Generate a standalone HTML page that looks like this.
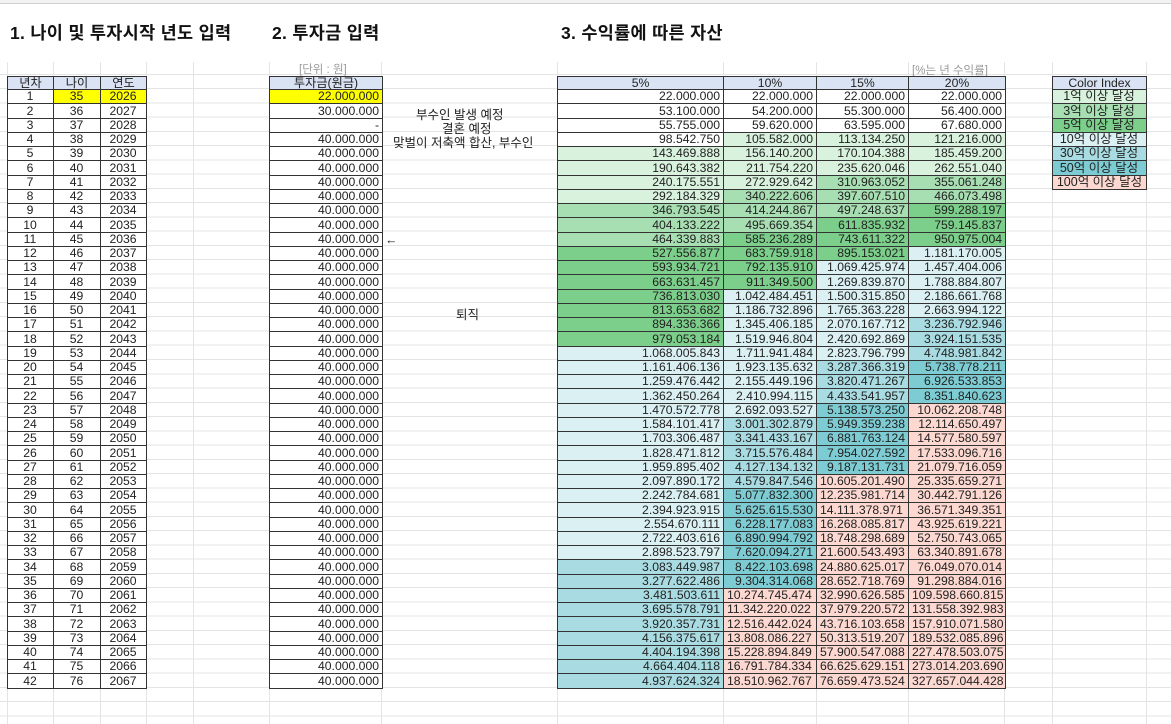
<!DOCTYPE html>
<html><head><meta charset="utf-8">
<style>
html,body{margin:0;padding:0;}
body{width:1171px;height:724px;position:relative;overflow:hidden;background:#fff;
font-family:"Liberation Sans","Noto Sans CJK KR",sans-serif;color:#222;}
.grid{position:absolute;left:0;top:0;width:1171px;height:724px;
background-image:repeating-linear-gradient(to bottom,transparent 0,transparent 13.26px,#e4e4e4 13.26px,#e4e4e4 14.26px);
background-position:0 3.5px;}
.v{position:absolute;top:0;width:1px;height:724px;background:#e4e4e4;}
.topbar{position:absolute;left:0;top:0;width:1171px;height:3px;background:#f2f2f2;border-bottom:1px solid #d0d0d0;}
.cover{position:absolute;left:0;top:4px;width:1171px;height:58px;background:#fff;}
h1{position:absolute;margin:0;font-size:17.5px;font-weight:bold;top:20px;color:#111;white-space:nowrap;letter-spacing:0.3px;}
table{position:absolute;border-collapse:collapse;table-layout:fixed;font-size:12.2px;background:#fff;}
td{border:1px solid #333;height:13.26px;padding:0 3px 0 2px;line-height:13px;white-space:nowrap;overflow:hidden;vertical-align:bottom;text-align:right;}
th{border:1px solid #333;height:12px;background:#dae3f3;font-weight:normal;line-height:12px;padding:0;text-align:center;vertical-align:bottom;}
.c{text-align:center;}
.y{background:#ffff00;}
.a{background:#d9f2dd;}.b{background:#a8dfb2;}.cc{background:#7ccf8a;}
.d{background:#dbf0f3;}.e{background:#a9dce2;}.f{background:#7dccd3;}.g{background:#fcd8d1;}
.o{text-align:left;padding-left:3px;padding-right:0;}
.note{position:absolute;font-size:12.5px;white-space:nowrap;color:#222;}
.gray{position:absolute;font-size:11.5px;color:#999;white-space:nowrap;}
.ci td{font-size:12.5px;}
</style></head><body>
<div class="grid"></div>
<div class="v" style="left:7px"></div><div class="v" style="left:53px"></div><div class="v" style="left:100px"></div><div class="v" style="left:146px"></div><div class="v" style="left:193px"></div><div class="v" style="left:269px"></div><div class="v" style="left:381px"></div><div class="v" style="left:557px"></div><div class="v" style="left:723px"></div><div class="v" style="left:816px"></div><div class="v" style="left:908px"></div><div class="v" style="left:1004px"></div><div class="v" style="left:1052px"></div><div class="v" style="left:1146px"></div>
<div class="topbar"></div>
<div class="cover"></div>
<h1 style="left:10px">1. 나이 및 투자시작 년도 입력</h1>
<h1 style="left:272px">2. 투자금 입력</h1>
<h1 style="left:561px">3. 수익률에 따른 자산</h1>
<div class="gray" style="left:299px;top:61px">[단위 : 원]</div>
<div class="gray" style="left:912px;top:62px">[%는 년 수익률]</div>

<table style="left:7px;top:76px;width:139px">
<colgroup><col style="width:46px"><col style="width:47px"><col style="width:46px"></colgroup>
<tr><th>년차</th><th>나이</th><th>연도</th></tr>
<tr><td class="c">1</td><td class="c y">35</td><td class="c y">2026</td></tr>
<tr><td class="c">2</td><td class="c">36</td><td class="c">2027</td></tr>
<tr><td class="c">3</td><td class="c">37</td><td class="c">2028</td></tr>
<tr><td class="c">4</td><td class="c">38</td><td class="c">2029</td></tr>
<tr><td class="c">5</td><td class="c">39</td><td class="c">2030</td></tr>
<tr><td class="c">6</td><td class="c">40</td><td class="c">2031</td></tr>
<tr><td class="c">7</td><td class="c">41</td><td class="c">2032</td></tr>
<tr><td class="c">8</td><td class="c">42</td><td class="c">2033</td></tr>
<tr><td class="c">9</td><td class="c">43</td><td class="c">2034</td></tr>
<tr><td class="c">10</td><td class="c">44</td><td class="c">2035</td></tr>
<tr><td class="c">11</td><td class="c">45</td><td class="c">2036</td></tr>
<tr><td class="c">12</td><td class="c">46</td><td class="c">2037</td></tr>
<tr><td class="c">13</td><td class="c">47</td><td class="c">2038</td></tr>
<tr><td class="c">14</td><td class="c">48</td><td class="c">2039</td></tr>
<tr><td class="c">15</td><td class="c">49</td><td class="c">2040</td></tr>
<tr><td class="c">16</td><td class="c">50</td><td class="c">2041</td></tr>
<tr><td class="c">17</td><td class="c">51</td><td class="c">2042</td></tr>
<tr><td class="c">18</td><td class="c">52</td><td class="c">2043</td></tr>
<tr><td class="c">19</td><td class="c">53</td><td class="c">2044</td></tr>
<tr><td class="c">20</td><td class="c">54</td><td class="c">2045</td></tr>
<tr><td class="c">21</td><td class="c">55</td><td class="c">2046</td></tr>
<tr><td class="c">22</td><td class="c">56</td><td class="c">2047</td></tr>
<tr><td class="c">23</td><td class="c">57</td><td class="c">2048</td></tr>
<tr><td class="c">24</td><td class="c">58</td><td class="c">2049</td></tr>
<tr><td class="c">25</td><td class="c">59</td><td class="c">2050</td></tr>
<tr><td class="c">26</td><td class="c">60</td><td class="c">2051</td></tr>
<tr><td class="c">27</td><td class="c">61</td><td class="c">2052</td></tr>
<tr><td class="c">28</td><td class="c">62</td><td class="c">2053</td></tr>
<tr><td class="c">29</td><td class="c">63</td><td class="c">2054</td></tr>
<tr><td class="c">30</td><td class="c">64</td><td class="c">2055</td></tr>
<tr><td class="c">31</td><td class="c">65</td><td class="c">2056</td></tr>
<tr><td class="c">32</td><td class="c">66</td><td class="c">2057</td></tr>
<tr><td class="c">33</td><td class="c">67</td><td class="c">2058</td></tr>
<tr><td class="c">34</td><td class="c">68</td><td class="c">2059</td></tr>
<tr><td class="c">35</td><td class="c">69</td><td class="c">2060</td></tr>
<tr><td class="c">36</td><td class="c">70</td><td class="c">2061</td></tr>
<tr><td class="c">37</td><td class="c">71</td><td class="c">2062</td></tr>
<tr><td class="c">38</td><td class="c">72</td><td class="c">2063</td></tr>
<tr><td class="c">39</td><td class="c">73</td><td class="c">2064</td></tr>
<tr><td class="c">40</td><td class="c">74</td><td class="c">2065</td></tr>
<tr><td class="c">41</td><td class="c">75</td><td class="c">2066</td></tr>
<tr><td class="c">42</td><td class="c">76</td><td class="c">2067</td></tr>
</table>

<table style="left:269px;top:76px;width:113px">
<colgroup><col style="width:113px"></colgroup>
<tr><th>투자금(원금)</th></tr>
<tr><td class="y">22.000.000</td></tr>
<tr><td>30.000.000</td></tr>
<tr><td>-</td></tr>
<tr><td>40.000.000</td></tr><tr><td>40.000.000</td></tr><tr><td>40.000.000</td></tr><tr><td>40.000.000</td></tr><tr><td>40.000.000</td></tr>
<tr><td>40.000.000</td></tr><tr><td>40.000.000</td></tr><tr><td>40.000.000</td></tr><tr><td>40.000.000</td></tr><tr><td>40.000.000</td></tr>
<tr><td>40.000.000</td></tr><tr><td>40.000.000</td></tr><tr><td>40.000.000</td></tr><tr><td>40.000.000</td></tr><tr><td>40.000.000</td></tr>
<tr><td>40.000.000</td></tr><tr><td>40.000.000</td></tr><tr><td>40.000.000</td></tr><tr><td>40.000.000</td></tr><tr><td>40.000.000</td></tr>
<tr><td>40.000.000</td></tr><tr><td>40.000.000</td></tr><tr><td>40.000.000</td></tr><tr><td>40.000.000</td></tr><tr><td>40.000.000</td></tr>
<tr><td>40.000.000</td></tr><tr><td>40.000.000</td></tr><tr><td>40.000.000</td></tr><tr><td>40.000.000</td></tr><tr><td>40.000.000</td></tr>
<tr><td>40.000.000</td></tr><tr><td>40.000.000</td></tr><tr><td>40.000.000</td></tr><tr><td>40.000.000</td></tr><tr><td>40.000.000</td></tr>
<tr><td>40.000.000</td></tr><tr><td>40.000.000</td></tr><tr><td>40.000.000</td></tr><tr><td>40.000.000</td></tr>
</table>

<div class="note" style="left:416px;top:104px">부수인 발생 예정</div>
<div class="note" style="left:442px;top:118px">결혼 예정</div>
<div class="note" style="left:393px;top:132px">맞벌이 저축액 합산, 부수인</div>
<div class="note" style="left:385px;top:233px">←</div>
<div class="note" style="left:456px;top:304px">퇴직</div>

<table style="left:557px;top:76px;width:448px">
<colgroup><col style="width:166px"><col style="width:93px"><col style="width:92px"><col style="width:97px"></colgroup>
<tr><th>5%</th><th>10%</th><th>15%</th><th>20%</th></tr>
<tr><td>22.000.000</td><td>22.000.000</td><td>22.000.000</td><td>22.000.000</td></tr>
<tr><td>53.100.000</td><td>54.200.000</td><td>55.300.000</td><td>56.400.000</td></tr>
<tr><td>55.755.000</td><td>59.620.000</td><td>63.595.000</td><td>67.680.000</td></tr>
<tr><td>98.542.750</td><td class="a">105.582.000</td><td class="a">113.134.250</td><td class="a">121.216.000</td></tr>
<tr><td class="a">143.469.888</td><td class="a">156.140.200</td><td class="a">170.104.388</td><td class="a">185.459.200</td></tr>
<tr><td class="a">190.643.382</td><td class="a">211.754.220</td><td class="a">235.620.046</td><td class="a">262.551.040</td></tr>
<tr><td class="a">240.175.551</td><td class="a">272.929.642</td><td class="b">310.963.052</td><td class="b">355.061.248</td></tr>
<tr><td class="a">292.184.329</td><td class="b">340.222.606</td><td class="b">397.607.510</td><td class="b">466.073.498</td></tr>
<tr><td class="b">346.793.545</td><td class="b">414.244.867</td><td class="b">497.248.637</td><td class="cc">599.288.197</td></tr>
<tr><td class="b">404.133.222</td><td class="b">495.669.354</td><td class="cc">611.835.932</td><td class="cc">759.145.837</td></tr>
<tr><td class="b">464.339.883</td><td class="cc">585.236.289</td><td class="cc">743.611.322</td><td class="cc">950.975.004</td></tr>
<tr><td class="cc">527.556.877</td><td class="cc">683.759.918</td><td class="cc">895.153.021</td><td class="d">1.181.170.005</td></tr>
<tr><td class="cc">593.934.721</td><td class="cc">792.135.910</td><td class="d">1.069.425.974</td><td class="d">1.457.404.006</td></tr>
<tr><td class="cc">663.631.457</td><td class="cc">911.349.500</td><td class="d">1.269.839.870</td><td class="d">1.788.884.807</td></tr>
<tr><td class="cc">736.813.030</td><td class="d">1.042.484.451</td><td class="d">1.500.315.850</td><td class="d">2.186.661.768</td></tr>
<tr><td class="cc">813.653.682</td><td class="d">1.186.732.896</td><td class="d">1.765.363.228</td><td class="d">2.663.994.122</td></tr>
<tr><td class="cc">894.336.366</td><td class="d">1.345.406.185</td><td class="d">2.070.167.712</td><td class="e">3.236.792.946</td></tr>
<tr><td class="cc">979.053.184</td><td class="d">1.519.946.804</td><td class="d">2.420.692.869</td><td class="e">3.924.151.535</td></tr>
<tr><td class="d">1.068.005.843</td><td class="d">1.711.941.484</td><td class="d">2.823.796.799</td><td class="e">4.748.981.842</td></tr>
<tr><td class="d">1.161.406.136</td><td class="d">1.923.135.632</td><td class="e">3.287.366.319</td><td class="f">5.738.778.211</td></tr>
<tr><td class="d">1.259.476.442</td><td class="d">2.155.449.196</td><td class="e">3.820.471.267</td><td class="f">6.926.533.853</td></tr>
<tr><td class="d">1.362.450.264</td><td class="d">2.410.994.115</td><td class="e">4.433.541.957</td><td class="f">8.351.840.623</td></tr>
<tr><td class="d">1.470.572.778</td><td class="d">2.692.093.527</td><td class="f">5.138.573.250</td><td class="g">10.062.208.748</td></tr>
<tr><td class="d">1.584.101.417</td><td class="e">3.001.302.879</td><td class="f">5.949.359.238</td><td class="g">12.114.650.497</td></tr>
<tr><td class="d">1.703.306.487</td><td class="e">3.341.433.167</td><td class="f">6.881.763.124</td><td class="g">14.577.580.597</td></tr>
<tr><td class="d">1.828.471.812</td><td class="e">3.715.576.484</td><td class="f">7.954.027.592</td><td class="g">17.533.096.716</td></tr>
<tr><td class="d">1.959.895.402</td><td class="e">4.127.134.132</td><td class="f">9.187.131.731</td><td class="g">21.079.716.059</td></tr>
<tr><td class="d">2.097.890.172</td><td class="e">4.579.847.546</td><td class="g o">10.605.201.490</td><td class="g">25.335.659.271</td></tr>
<tr><td class="d">2.242.784.681</td><td class="f">5.077.832.300</td><td class="g o">12.235.981.714</td><td class="g">30.442.791.126</td></tr>
<tr><td class="d">2.394.923.915</td><td class="f">5.625.615.530</td><td class="g o">14.111.378.971</td><td class="g">36.571.349.351</td></tr>
<tr><td class="d">2.554.670.111</td><td class="f">6.228.177.083</td><td class="g o">16.268.085.817</td><td class="g">43.925.619.221</td></tr>
<tr><td class="d">2.722.403.616</td><td class="f">6.890.994.792</td><td class="g o">18.748.298.689</td><td class="g">52.750.743.065</td></tr>
<tr><td class="d">2.898.523.797</td><td class="f">7.620.094.271</td><td class="g o">21.600.543.493</td><td class="g">63.340.891.678</td></tr>
<tr><td class="e">3.083.449.987</td><td class="f">8.422.103.698</td><td class="g o">24.880.625.017</td><td class="g">76.049.070.014</td></tr>
<tr><td class="e">3.277.622.486</td><td class="f">9.304.314.068</td><td class="g o">28.652.718.769</td><td class="g">91.298.884.016</td></tr>
<tr><td class="e">3.481.503.611</td><td class="g o">10.274.745.474</td><td class="g o">32.990.626.585</td><td class="g o">109.598.660.815</td></tr>
<tr><td class="e">3.695.578.791</td><td class="g o">11.342.220.022</td><td class="g o">37.979.220.572</td><td class="g o">131.558.392.983</td></tr>
<tr><td class="e">3.920.357.731</td><td class="g o">12.516.442.024</td><td class="g o">43.716.103.658</td><td class="g o">157.910.071.580</td></tr>
<tr><td class="e">4.156.375.617</td><td class="g o">13.808.086.227</td><td class="g o">50.313.519.207</td><td class="g o">189.532.085.896</td></tr>
<tr><td class="e">4.404.194.398</td><td class="g o">15.228.894.849</td><td class="g o">57.900.547.088</td><td class="g o">227.478.503.075</td></tr>
<tr><td class="e">4.664.404.118</td><td class="g o">16.791.784.334</td><td class="g o">66.625.629.151</td><td class="g o">273.014.203.690</td></tr>
<tr><td class="e">4.937.624.324</td><td class="g o">18.510.962.767</td><td class="g o">76.659.473.524</td><td class="g o">327.657.044.428</td></tr>
</table>

<table class="ci" style="left:1052px;top:76px;width:94px">
<colgroup><col style="width:94px"></colgroup>
<tr><th>Color Index</th></tr>
<tr><td class="c a">1억 이상 달성</td></tr>
<tr><td class="c b">3억 이상 달성</td></tr>
<tr><td class="c cc">5억 이상 달성</td></tr>
<tr><td class="c d">10억 이상 달성</td></tr>
<tr><td class="c e">30억 이상 달성</td></tr>
<tr><td class="c f">50억 이상 달성</td></tr>
<tr><td class="c g" style="padding:0">100억 이상 달성</td></tr>
</table>
</body></html>
